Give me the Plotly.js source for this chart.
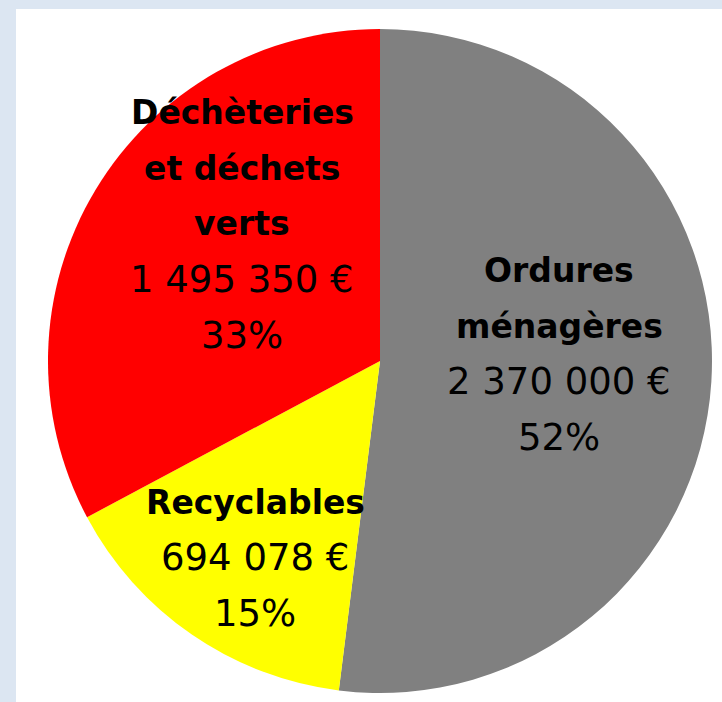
<!DOCTYPE html>
<html>
<head>
<meta charset="utf-8">
<script src="https://cdn.plot.ly/plotly-3.0.1.min.js"></script>
<style>
html,body{margin:0;padding:0;background:#dce6f2;width:722px;height:702px;overflow:hidden;}
#chart{position:absolute;left:16px;top:9px;width:706px;height:693px;}
</style>
</head>
<body>
<div id="chart"></div>
<script>
// Data
const categories = ['Ordures ménagères', 'Recyclables', 'Déchèteries et déchets verts'];
const categoryLines = [['Ordures', 'ménagères'], ['Recyclables'], ['Déchèteries', 'et déchets', 'verts']];
const amounts = [2370000, 694078, 1495350];
const sliceColors = ['#808080', '#ffff00', '#ff0000'];

const W = 706, H = 693, OX = 16, OY = 9;
const total = amounts.reduce((a, b) => a + b, 0);
function fmt(v) { return String(v).replace(/\B(?=(\d{3})+(?!\d))/g, ' ') + ' €'; }
function pct(v) { return Math.round(v / total * 100) + '%'; }

// label placement (page pixel coords of first line centre) and line step
const labelPos = [[559, 271], [255, 502], [242, 113]];
const step = 55.5;
const annotations = [];
categories.forEach((c, i) => {
  const lines = categoryLines[i].map(t => ({t: t, bold: true}))
    .concat([{t: fmt(amounts[i]), bold: false}, {t: pct(amounts[i]), bold: false}]);
  lines.forEach((ln, j) => {
    const px = labelPos[i][0], py = labelPos[i][1] + j * step;
    annotations.push({
      xref: 'paper', yref: 'paper',
      x: (px - OX) / W, y: 1 - (py - OY) / H,
      xanchor: 'center', yanchor: 'middle',
      showarrow: false,
      text: ln.bold ? '<b>' + ln.t + '</b>' : ln.t,
      font: {family: 'DejaVu Sans', size: ln.bold ? 33 : 37, color: '#000000'}
    });
  });
});

const trace = {
  type: 'pie',
  labels: categories,
  values: amounts,
  sort: false,
  direction: 'clockwise',
  rotation: 0,
  textinfo: 'none',
  hoverinfo: 'label+value+percent',
  marker: {colors: sliceColors, line: {width: 0}},
  domain: {x: [32 / W, 696 / W], y: [9 / H, 673 / H]},
  showlegend: false
};

const layout = {
  width: W, height: H,
  margin: {l: 0, r: 0, t: 0, b: 0},
  paper_bgcolor: '#ffffff',
  showlegend: false,
  annotations: annotations
};

Plotly.newPlot('chart', [trace], layout, {displayModeBar: false, staticPlot: true});
</script>
</body>
</html>
